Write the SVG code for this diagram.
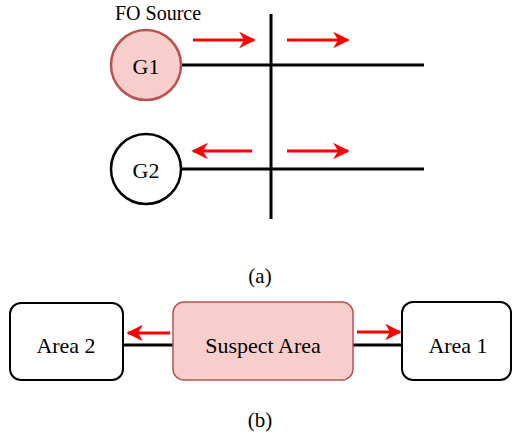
<svg xmlns="http://www.w3.org/2000/svg" width="512" height="439" viewBox="0 0 512 439">
<defs>
<marker id="ah" viewBox="0 0 10 10" refX="9" refY="5" markerWidth="5.5" markerHeight="5.5" orient="auto-start-reverse" markerUnits="strokeWidth">
<path d="M0,0 L10,5 L0,10 L3,5 Z" fill="#ff0000"/>
</marker>
</defs>
<style>
text{font-family:"Liberation Serif","Times New Roman",serif;fill:#000}
.bus{stroke:#000;stroke-width:3;fill:none}
.flow{stroke:#ff0000;stroke-width:3;fill:none;marker-end:url(#ah)}
.sus{fill:#f8cecc;stroke:#b85450;stroke-width:2}
.plain{fill:#fff;stroke:#000;stroke-width:2}
.lbl{font-size:22px;text-anchor:middle;dominant-baseline:central}
.cap{font-size:21px;text-anchor:middle}
</style>
<g id="connectors">
<line class="bus" x1="181" y1="65" x2="424" y2="65"/>
<line class="bus" x1="181" y1="169" x2="424" y2="169"/>
<line class="bus" x1="271" y1="14" x2="271" y2="219"/>
<line class="bus" x1="123" y1="345" x2="173" y2="345"/>
<line class="bus" x1="353" y1="345" x2="402" y2="345"/>
<line class="flow" x1="193" y1="40" x2="254" y2="40"/>
<line class="flow" x1="287" y1="40" x2="348" y2="40"/>
<line class="flow" x1="252" y1="151" x2="193" y2="151"/>
<line class="flow" x1="287" y1="151" x2="348" y2="151"/>
<line class="flow" x1="170" y1="333" x2="128" y2="333"/>
<line class="flow" x1="357" y1="332" x2="400" y2="332"/>
</g>
<text x="115" y="20" style="font-size:20px">FO Source</text>
<g id="G1">
<circle class="sus" cx="146" cy="65" r="35" style="stroke-width:2.5"/>
<text class="lbl" x="146" y="66">G1</text>
</g>
<g id="G2">
<circle class="plain" cx="146" cy="169" r="35" style="stroke-width:2.5"/>
<text class="lbl" x="146" y="170">G2</text>
</g>
<text class="cap" x="260" y="283">(a)</text>
<g id="area2">
<rect class="plain" x="10" y="303" width="113" height="77" rx="11"/>
<text class="lbl" x="66" y="345">Area 2</text>
</g>
<g id="suspect">
<rect class="sus" x="173" y="302" width="180" height="78" rx="11" style="stroke-width:1.5"/>
<text class="lbl" x="263" y="345">Suspect Area</text>
</g>
<g id="area1">
<rect class="plain" x="402" y="302" width="109" height="78" rx="11"/>
<text class="lbl" x="458" y="345">Area 1</text>
</g>
<text class="cap" x="260" y="427">(b)</text>
</svg>
